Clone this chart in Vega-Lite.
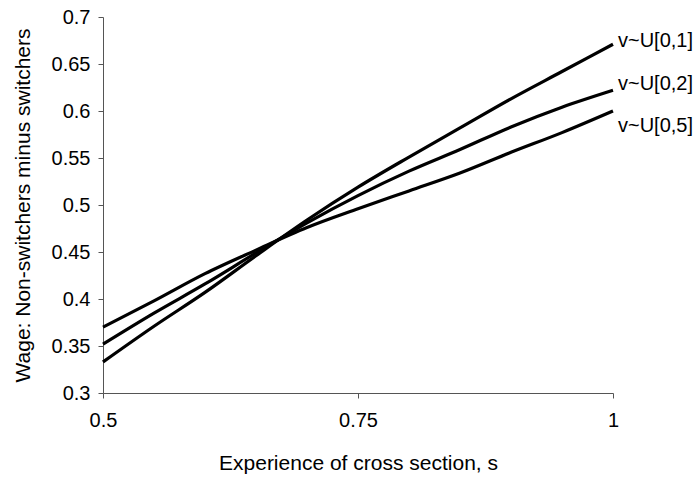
{
  "$schema": "https://vega.github.io/schema/vega-lite/v6.json",
  "width": 510,
  "height": 376,
  "autosize": "none",
  "padding": {"left": 103, "top": 17, "right": 86, "bottom": 87},
  "background": "white",
  "config": {
    "view": {"stroke": null},
    "font": "Liberation Sans",
    "axis": {
      "grid": false,
      "domainColor": "#555555",
      "tickColor": "#555555",
      "labelColor": "black",
      "titleColor": "black",
      "labelFont": "Liberation Sans",
      "titleFont": "Liberation Sans",
      "labelFontSize": 20,
      "titleFontSize": 21,
      "titleFontWeight": "normal",
      "labelFlush": false,
      "labelOverlap": false,
      "tickSize": 5
    }
  },
  "datasets": {
    "lines": [
      {"s": 0.5, "w": 0.333, "series": "v~U[0,1]"},
      {"s": 0.55, "w": 0.371, "series": "v~U[0,1]"},
      {"s": 0.6, "w": 0.407, "series": "v~U[0,1]"},
      {"s": 0.65, "w": 0.446, "series": "v~U[0,1]"},
      {"s": 0.7, "w": 0.484, "series": "v~U[0,1]"},
      {"s": 0.75, "w": 0.519, "series": "v~U[0,1]"},
      {"s": 0.8, "w": 0.551, "series": "v~U[0,1]"},
      {"s": 0.85, "w": 0.582, "series": "v~U[0,1]"},
      {"s": 0.9, "w": 0.613, "series": "v~U[0,1]"},
      {"s": 0.95, "w": 0.642, "series": "v~U[0,1]"},
      {"s": 1.0, "w": 0.671, "series": "v~U[0,1]"},
      {"s": 0.5, "w": 0.352, "series": "v~U[0,2]"},
      {"s": 0.55, "w": 0.385, "series": "v~U[0,2]"},
      {"s": 0.6, "w": 0.416, "series": "v~U[0,2]"},
      {"s": 0.65, "w": 0.449, "series": "v~U[0,2]"},
      {"s": 0.7, "w": 0.481, "series": "v~U[0,2]"},
      {"s": 0.75, "w": 0.510, "series": "v~U[0,2]"},
      {"s": 0.8, "w": 0.536, "series": "v~U[0,2]"},
      {"s": 0.85, "w": 0.559, "series": "v~U[0,2]"},
      {"s": 0.9, "w": 0.583, "series": "v~U[0,2]"},
      {"s": 0.95, "w": 0.604, "series": "v~U[0,2]"},
      {"s": 1.0, "w": 0.622, "series": "v~U[0,2]"},
      {"s": 0.5, "w": 0.370, "series": "v~U[0,5]"},
      {"s": 0.55, "w": 0.398, "series": "v~U[0,5]"},
      {"s": 0.6, "w": 0.427, "series": "v~U[0,5]"},
      {"s": 0.65, "w": 0.452, "series": "v~U[0,5]"},
      {"s": 0.7, "w": 0.476, "series": "v~U[0,5]"},
      {"s": 0.75, "w": 0.496, "series": "v~U[0,5]"},
      {"s": 0.8, "w": 0.515, "series": "v~U[0,5]"},
      {"s": 0.85, "w": 0.534, "series": "v~U[0,5]"},
      {"s": 0.9, "w": 0.556, "series": "v~U[0,5]"},
      {"s": 0.95, "w": 0.577, "series": "v~U[0,5]"},
      {"s": 1.0, "w": 0.600, "series": "v~U[0,5]"}
    ],
    "labels": [
      {"s": 1.0, "w": 0.675, "label": "v~U[0,1]"},
      {"s": 1.0, "w": 0.629, "label": "v~U[0,2]"},
      {"s": 1.0, "w": 0.584, "label": "v~U[0,5]"}
    ]
  },
  "layer": [
    {
      "data": {"name": "lines"},
      "mark": {"type": "line", "color": "black", "strokeWidth": 3.2, "interpolate": "monotone", "clip": false},
      "encoding": {
        "x": {
          "field": "s", "type": "quantitative",
          "scale": {"domain": [0.5, 1], "nice": false, "zero": false},
          "axis": {"values": [0.5, 0.75, 1], "format": "~g", "title": "Experience of cross section, s", "labelPadding": 12, "titlePadding": 22}
        },
        "y": {
          "field": "w", "type": "quantitative",
          "scale": {"domain": [0.3, 0.7], "nice": false, "zero": false},
          "axis": {"values": [0.3, 0.35, 0.4, 0.45, 0.5, 0.55, 0.6, 0.65, 0.7], "format": "~g", "title": "Wage: Non-switchers minus switchers", "labelPadding": 8, "titlePadding": 18}
        },
        "detail": {"field": "series"}
      }
    },
    {
      "data": {"name": "labels"},
      "mark": {"type": "text", "align": "left", "baseline": "middle", "dx": 5, "fontSize": 20, "color": "black", "font": "Liberation Sans", "clip": false},
      "encoding": {
        "x": {"field": "s", "type": "quantitative"},
        "y": {"field": "w", "type": "quantitative"},
        "text": {"field": "label"}
      }
    }
  ]
}
